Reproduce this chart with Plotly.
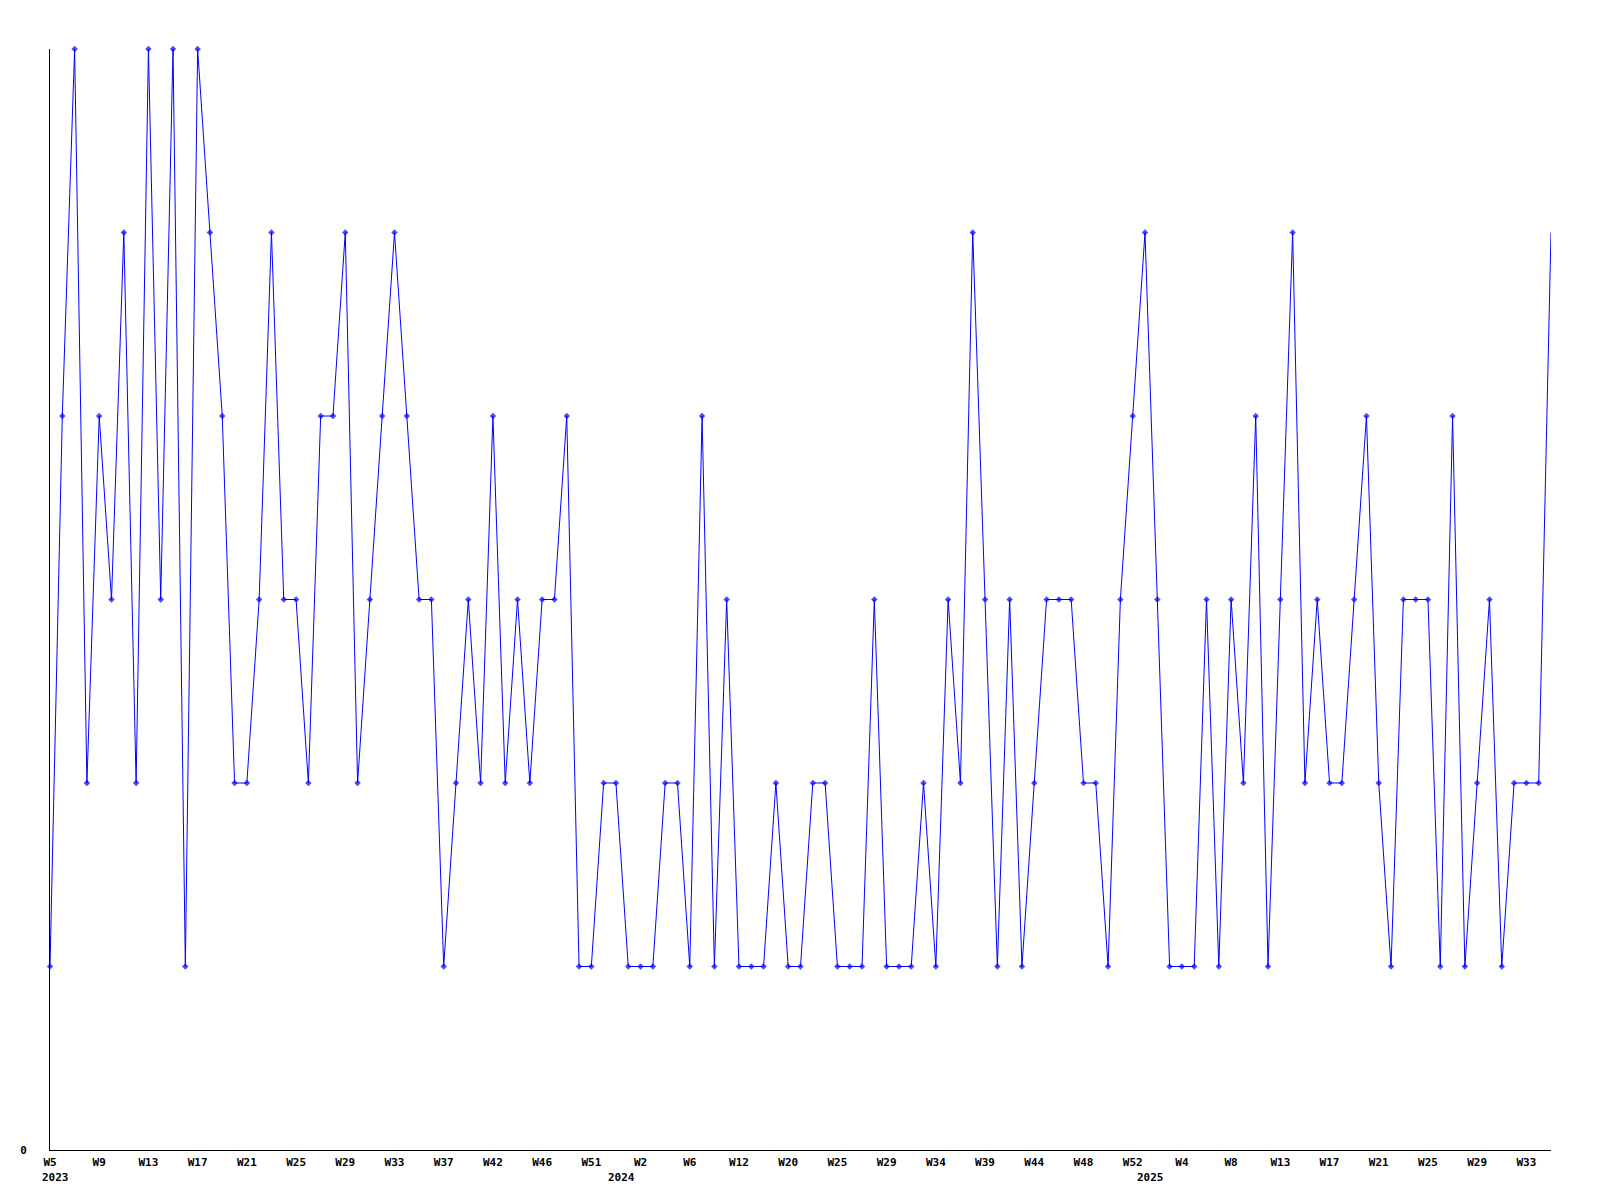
import plotly.graph_objects as go

# Weekly values (one point per reported week, 2023 W5 .. 2025 W35)
values = [
    1, 4, 6, 2, 4, 3, 5, 2, 6, 3,
    6, 1, 6, 5, 4, 2, 2, 3, 5, 3,
    3, 2, 4, 4, 5, 2, 3, 4, 5, 4,
    3, 3, 1, 2, 3, 2, 4, 2, 3, 2,
    3, 3, 4, 1, 1, 2, 2, 1, 1, 1,
    2, 2, 1, 4, 1, 3, 1, 1, 1, 2,
    1, 1, 2, 2, 1, 1, 1, 3, 1, 1,
    1, 2, 1, 3, 2, 5, 3, 1, 3, 1,
    2, 3, 3, 3, 2, 2, 1, 3, 4, 5,
    3, 1, 1, 1, 3, 1, 3, 2, 4, 1,
    3, 5, 2, 3, 2, 2, 3, 4, 2, 1,
    3, 3, 3, 1, 4, 1, 2, 3, 1, 2,
    2, 2, 5,
]

# Week labels shown on every 4th point
week_labels = [
    "W5", "W9", "W13", "W17", "W21", "W25", "W29", "W33", "W37", "W42",
    "W46", "W51", "W2", "W6", "W12", "W20", "W25", "W29", "W34", "W39",
    "W44", "W48", "W52", "W4", "W8", "W13", "W17", "W21", "W25", "W29",
    "W33",
]
label_step = 4

# Year labels and the index of the first point of each year
years = ["2023", "2024", "2025"]
year_first_point = [0, 46, 89]

n = len(values)
x = list(range(n))

FONT = dict(family="DejaVu Sans Mono", size=11, color="black", weight="bold")
BLUE = "#0000FF"

marker_sizes = [5] * (n - 1) + [0]

fig = go.Figure()
fig.add_trace(go.Scatter(
    x=x, y=values,
    mode="lines+markers",
    line=dict(color=BLUE, width=1),
    marker=dict(symbol="diamond", size=marker_sizes, color=BLUE,
                line=dict(width=0)),
    cliponaxis=False,
    hoverinfo="skip",
    showlegend=False,
))

fig.update_xaxes(
    range=[0, n - 1],
    tickmode="array",
    tickvals=x[::label_step],
    ticktext=week_labels,
    ticks="",
    ticklabelstandoff=2,
    showgrid=False,
    zeroline=False,
    showline=True,
    linecolor="black",
    linewidth=1,
    tickfont=FONT,
    tickangle=0,
)
fig.update_yaxes(
    range=[0, 6],
    tickmode="array",
    tickvals=[0],
    ticktext=["0"],
    ticks="",
    ticklabelstandoff=20,
    showgrid=False,
    zeroline=False,
    showline=True,
    linecolor="black",
    linewidth=1,
    tickfont=FONT,
)

for yr, idx in zip(years, year_first_point):
    fig.add_annotation(
        x=idx, y=0, xref="x", yref="paper",
        text=yr, showarrow=False,
        xanchor="left", yanchor="middle",
        xshift=-10, yshift=-27,
        font=FONT,
    )

fig.update_layout(
    width=1600, height=1200,
    margin=dict(l=50, r=49, t=49, b=50, pad=0),
    plot_bgcolor="white",
    paper_bgcolor="white",
)

fig.write_html(
    "out.html",
    config={"displayModeBar": False},
    post_script="document.body.style.margin='0';",
)
